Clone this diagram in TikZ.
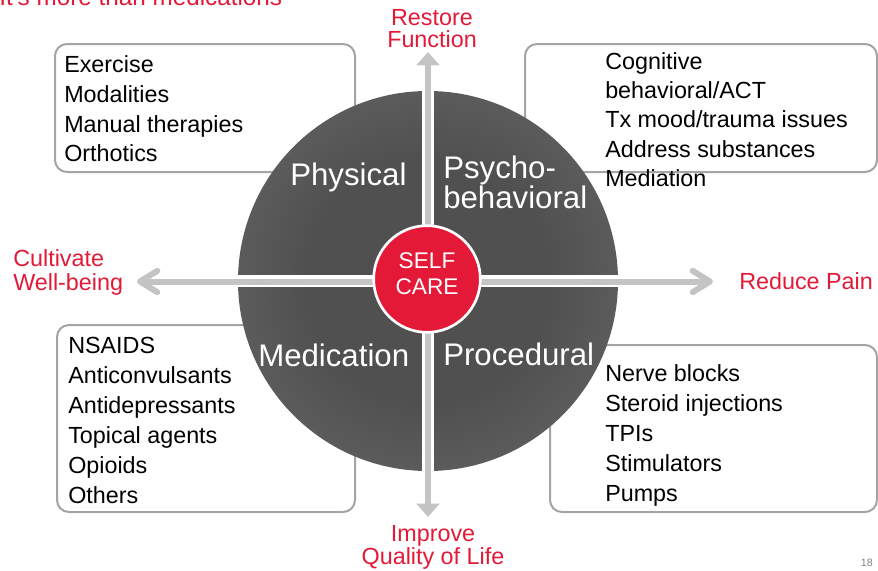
\documentclass[tikz,border=0pt]{standalone}
\usepackage{fontspec}
\setmainfont{Liberation Sans}
\usepackage{xcolor}
\usetikzlibrary{arrows.meta}
\usetikzlibrary{positioning}
\definecolor{careRed}{RGB}{227,25,55}
\definecolor{barGray}{RGB}{196,196,196}
\definecolor{boxGray}{RGB}{164,164,164}
\definecolor{wheelDark}{RGB}{80,80,80}
\definecolor{wheelLight}{RGB}{122,122,122}
\pgfdeclareradialshading{wheelshade}{\pgfpoint{0bp}{0bp}}{color(0bp)=(wheelDark); color(16bp)=(wheelDark); color(50bp)=(wheelLight)}

\begin{document}
\begin{tikzpicture}[x=0.75pt, y=-0.75pt,
		itemtext/.style={anchor=base west, inner sep=0pt, font=\fontsize{17.5}{21}\selectfont},
		goal/.style={text=careRed, inner sep=0pt, align=center, font=\fontsize{17.5}{16.3}\selectfont},
		quad/.style={text=white, inner sep=0pt, anchor=base west, font=\fontsize{23.4}{22.5}\selectfont},
		listbox/.style={draw=boxGray, line width=1.5pt, rounded corners=9pt, fill=white},
		gap/.style={white, line width=9.5pt},
		bar/.style={barGray, line width=4.5pt}]
	\useasboundingbox (0,0) rectangle (878,571);

	\node[anchor=base west, inner sep=0pt, text=careRed, font=\fontsize{18.2}{20}\selectfont] (title) at (-1,6) {It's more than medications};

	% the four lists behind the wheel
	\draw[listbox] (55,44) rectangle (355,172);
	\draw[listbox] (525,44) rectangle (877,172);
	\draw[listbox] (57,325) rectangle (355,512);
	\draw[listbox] (550,345) rectangle (877,512);

	\foreach \txt [count=\i] in {Exercise, Modalities, Manual therapies, Orthotics}
	{
		\node[itemtext] (phys\i) at (64, {72.7+29.7*(\i-1)}) {\txt};
	}
	\foreach \txt [count=\i] in {Cognitive, behavioral/ACT, Tx mood/trauma issues, Address substances, Mediation}
	{
		\node[itemtext] (psych\i) at (605, {69.3+29.3*(\i-1)}) {\txt};
	}
	\foreach \txt [count=\i] in {NSAIDS, Anticonvulsants, Antidepressants, Topical agents, Opioids, Others}
	{
		\node[itemtext] (med\i) at (68, {353.3+30*(\i-1)}) {\txt};
	}
	\foreach \txt [count=\i] in {Nerve blocks, Steroid injections, TPIs, Stimulators, Pumps}
	{
		\node[itemtext] (proc\i) at (605, {381.7+30*(\i-1)}) {\txt};
	}

	% wheel split in quarters
	\node[circle, minimum size=285pt, inner sep=0pt, shading=wheelshade] (wheel) at (428,281) {};
	\draw[gap] (wheel.north) -- (wheel.south);
	\draw[gap] (wheel.west) -- (wheel.east);

	\coordinate (upTip) at (428,52);
	\coordinate (downTip) at (428,517);
	\coordinate (leftTip) at (137,281.5);
	\coordinate (rightTip) at (713,281.5);
	\draw[bar, {Triangle[width=17pt,length=10pt]}-{Triangle[width=17pt,length=10pt]}] (downTip) -- (upTip);
	\draw[bar, {Straight Barb[length=13pt,width=16pt,round]}-{Straight Barb[length=13pt,width=16pt,round]}] (leftTip) -- (rightTip);

	\node[circle, fill=careRed, draw=white, line width=2pt, minimum size=80pt, inner sep=0pt] (self) at (427,279) {};
	\node[text=white, inner sep=0pt, align=center, font=\fontsize{17}{19.5}\selectfont] (selfLabel) at ([yshift=4pt]self.center) {SELF\\CARE};

	\node[quad] (physical) at (290,185) {Physical};
	\node[quad, align=left] (psycho) at (443,208) {Psycho-\\behavioral};
	\node[quad] (medication) at (258,366.7) {Medication};
	\node[quad] (procedural) at (443,365) {Procedural};

	\node[goal, anchor=base] (restore) at (432,47.5) {Restore\\Function};
	\node[goal, anchor=base] (improve) at (433,564.5) {Improve\\Quality of Life};
	\node[goal, anchor=base west, align=left, font=\fontsize{17.5}{17.5}\selectfont] (cultivate) at (13,290) {Cultivate\\Well-being};
	\node[goal, anchor=base west] (reduce) at (739,289) {Reduce Pain};

	\node[anchor=base east, inner sep=0pt, text=gray, font=\fontsize{8}{9}\selectfont] (pageno) at (873,566) {18};
\end{tikzpicture}
\end{document}
